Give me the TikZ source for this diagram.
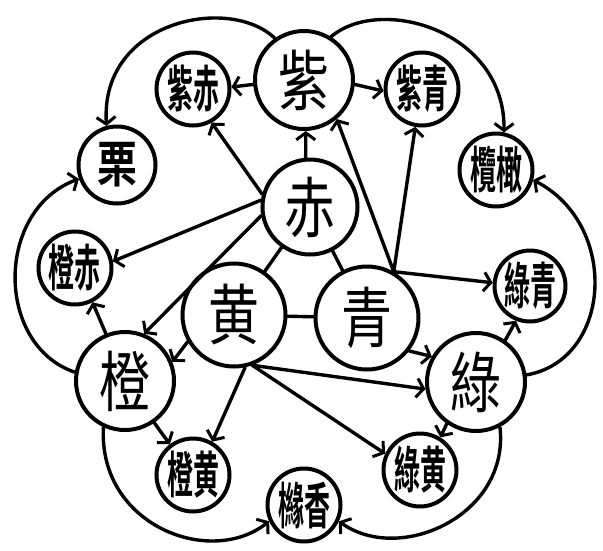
\documentclass[tikz,border=0pt]{standalone}
\usepackage{graphicx}
\usepackage{fontspec}
\newfontfamily\cjk{Noto Sans CJK TC}[BoldFont={* Bold}]
\usetikzlibrary{arrows.meta}
\newcommand{\onechar}[1]{\scalebox{0.85}[1.1]{#1}}
\newcommand{\twochar}[2]{\scalebox{0.52}[1]{#1}\scalebox{0.52}[1]{#2}}
\tikzset{
  bigc/.style={circle, draw, line width=4pt, inner sep=0pt, minimum size=98pt,
    font=\cjk\fontsize{60}{60}\selectfont},
  smallc/.style={circle, draw, line width=4pt, inner sep=0pt, minimum size=73pt,
    font=\cjk\bfseries\fontsize{50}{50}\selectfont},
  conn/.style={line width=3.4pt, line cap=round},
  arr/.style={conn, -{Straight Barb[length=7pt,width=19pt,line width=3pt]}},
}
\begin{document}
\begin{tikzpicture}[x=1pt,y=-1pt]
\useasboundingbox (0,0) rectangle (603,550);
% primary and secondary
\node[bigc] (zi)    at (304,80)  {\onechar{紫}};
\node[bigc,minimum size=95pt] (chi)   at (310,207) {\onechar{赤}};
\node[bigc,minimum size=103pt] (huang) at (234,315) {\onechar{黄}};
\node[bigc,minimum size=103pt] (qing)  at (367,318) {\onechar{青}};
\node[bigc] (cheng) at (125,381) {\onechar{橙}};
\node[bigc] (lv)    at (476,382) {\onechar{綠}};
% small
\node[smallc] (zichi)  at (193,89)  {\twochar{紫}{赤}};
\node[smallc] (ziqing) at (422,89)  {\twochar{紫}{青}};
\node[smallc] (lan)    at (496,170) {\twochar{欖}{橄}};
\node[smallc,minimum size=77pt] (li) at (117,165) {\scalebox{0.8}[1]{栗}};
\node[smallc] (chengchi)   at (75,268)  {\twochar{橙}{赤}};
\node[smallc,minimum size=71pt] (lvqing) at (530,286) {\twochar{綠}{青}};
\node[smallc] (lvhuang)    at (420,470) {\twochar{綠}{黄}};
\node[smallc] (chenghuang) at (193,475) {\twochar{橙}{黄}};
\node[smallc] (yuan)       at (304,505) {\twochar{櫞}{香}};
% primary triangle
\draw[conn] (chi) -- (huang);
\draw[conn] (chi) -- (qing);
\draw[conn] (huang) -- (qing);
% from red
\draw[arr] (chi.95) -- (zi.-88);
\draw[arr] (chi.165) -- (zichi.-61);
\draw[arr] (chi.172) -- (chengchi.10);
\draw[arr] (chi.190) -- (cheng.68);
% from yellow
\draw[arr] (huang.210) -- (cheng.22);
\draw[arr] (huang.-78) -- (chenghuang.60);
\draw[arr] (huang.-70) -- (lv.188);
\draw[arr] (huang.-70) -- (lvhuang.155);
% from blue
\draw[arr] (qing.-38) -- (lv.150);
\draw[arr] (qing.60) -- (zi.-50);
\draw[arr] (qing.60) -- (ziqing.-100);
\draw[arr] (qing.60) -- (lvqing.175);
% from secondaries
\draw[arr] (zi.185) -- (zichi.3);
\draw[arr] (zi.-5) -- (ziqing.183);
\draw[arr] (lv.55) -- (lvqing.-112);
\draw[arr] (lv.-125) -- (lvhuang.58);
\draw[arr] (cheng.-55) -- (chenghuang.127);
\draw[arr] (cheng.112) -- (chengchi.-63);
% outer arcs
\draw[arr] (zi.125) .. controls (230,-5) and (100,20) .. (li.105);
\draw[arr] (zi.58) .. controls (380,-5) and (505,30) .. (lan.78);
\draw[arr] (lv.8) .. controls (612,360) and (620,225) .. (lan.-15);
\draw[arr] (lv.-62) .. controls (510,515) and (400,565) .. (yuan.-25);
\draw[arr] (cheng.-115) .. controls (98,525) and (210,568) .. (yuan.205);
\draw[arr] (cheng.170) .. controls (-5,345) and (-5,210) .. (li.200);
\end{tikzpicture}
\end{document}
